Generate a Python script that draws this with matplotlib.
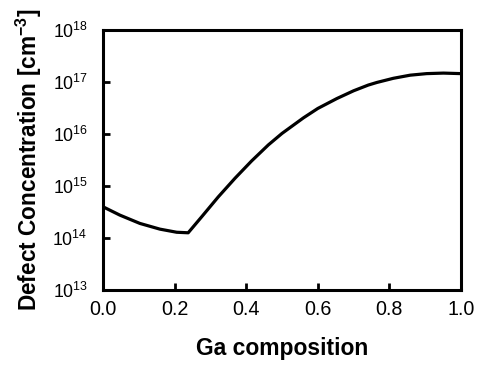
import matplotlib
matplotlib.use("Agg")
import matplotlib.pyplot as plt
from matplotlib.ticker import NullLocator

plt.rcParams['font.family'] = ['Liberation Sans', 'DejaVu Sans']
plt.rcParams['mathtext.fontset'] = 'custom'
plt.rcParams['mathtext.rm'] = 'Liberation Sans'
plt.rcParams['mathtext.it'] = 'Liberation Sans:italic'
plt.rcParams['mathtext.bf'] = 'Liberation Sans:bold'

# values (log10 of concentration)
ga_comp = [0.0, 0.047, 0.103, 0.159, 0.206, 0.238, 0.276, 0.322, 0.369, 0.415,
           0.462, 0.50, 0.56, 0.60, 0.653, 0.70, 0.741, 0.765, 0.811, 0.858,
           0.904, 0.951, 1.0]
log_conc = [14.60, 14.44, 14.28, 14.17, 14.11, 14.10, 14.41, 14.79, 15.15, 15.48,
            15.79, 16.01, 16.31, 16.49, 16.68, 16.83, 16.94, 16.99, 17.07, 17.13,
            17.16, 17.17, 17.16]
conc = [10 ** v for v in log_conc]

yticks = [1e13, 1e14, 1e15, 1e16, 1e17, 1e18]
ytick_labels = [r'$10^{13}$', r'$10^{14}$', r'$10^{15}$', r'$10^{16}$', r'$10^{17}$', r'$10^{18}$']
xticks = [0.0, 0.2, 0.4, 0.6, 0.8, 1.0]

fig = plt.figure(figsize=(4.79, 3.65), dpi=100)
ax = fig.add_axes([0.215, 0.2055, 0.7474, 0.7125])

ax.plot(ga_comp, conc, color='black', lw=2.3, solid_joinstyle='round')
ax.set_yscale('log')
ax.set_xlim(0, 1)
ax.set_ylim(1e13, 1e18)

ax.set_yticks(yticks, ytick_labels, fontsize=12.8)
ax.yaxis.set_minor_locator(NullLocator())
ax.set_xticks(xticks, ['%.1f' % v for v in xticks], fontsize=14.2)

for s in ax.spines.values():
    s.set_linewidth(2.2)
ax.tick_params(direction='in', length=5, width=2, top=False, right=False)
ax.tick_params(axis='y', pad=11)
ax.tick_params(axis='x', pad=7)

ax.set_xlabel('Ga composition', fontsize=16.5, fontweight='bold')
ax.xaxis.set_label_coords(0.5, -0.18)
ax.set_ylabel(r'Defect Concentration [cm$^{\mathbf{-3}}$]', fontsize=16.3,
              fontweight='bold')
ax.yaxis.set_label_coords(-0.165, 0.5)

fig.savefig('out.png', dpi=100)
